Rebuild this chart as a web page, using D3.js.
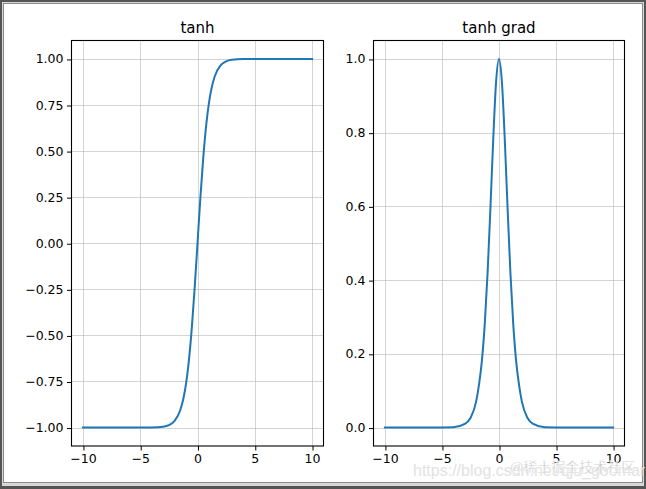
<!DOCTYPE html>
<html><head><meta charset="utf-8">
<script src="https://cdn.jsdelivr.net/npm/d3@7"></script>
<style>
html,body{margin:0;padding:0;background:#fff;}
svg{display:block;font-family:"DejaVu Sans",sans-serif;}
</style></head>
<body>
<svg id="c" width="646" height="489"></svg>
<script>
// ---- data ----
const xTicks = [-10, -5, 0, 5, 10];
const tanhYTicks = [-1.00, -0.75, -0.50, -0.25, 0.00, 0.25, 0.50, 0.75, 1.00];
const gradYTicks = [0.0, 0.2, 0.4, 0.6, 0.8, 1.0];

const tanhX = [-10, -6, -4, -3, -2.5, -2, -1.5, -1.25, -1, -0.75, -0.5, -0.25, 0, 0.25, 0.5, 0.75, 1, 1.25, 1.5, 2, 2.5, 3, 4, 6, 10];
const tanhY = [-1, -1, -0.999, -0.995, -0.987, -0.964, -0.905, -0.848, -0.762, -0.635, -0.462, -0.245, 0, 0.245, 0.462, 0.635, 0.762, 0.848, 0.905, 0.964, 0.987, 0.995, 0.999, 1, 1];

const gradX = [-10, -6, -4, -3, -2.5, -2, -1.75, -1.5, -1.25, -1, -0.75, -0.5, -0.25, 0, 0.25, 0.5, 0.75, 1, 1.25, 1.5, 1.75, 2, 2.5, 3, 4, 6, 10];
const gradY = [0, 0, 0.001, 0.01, 0.026, 0.071, 0.117, 0.181, 0.28, 0.42, 0.597, 0.786, 0.94, 1, 0.94, 0.786, 0.597, 0.42, 0.28, 0.181, 0.117, 0.071, 0.026, 0.01, 0.001, 0, 0];

const titles = ["tanh", "tanh grad"];

const svg = d3.select("#c");
// frame
svg.append("rect").attr("x",0).attr("y",0).attr("width",646).attr("height",489).attr("fill","#555");
svg.append("rect").attr("x",2).attr("y",2).attr("width",642).attr("height",484).attr("fill","#d8d8d8");
svg.append("rect").attr("x",3.5).attr("y",3.5).attr("width",639).attr("height",479).attr("fill","#fff").attr("stroke","#8a8a8a").attr("stroke-width",1);

function panel(box, xs, ys, yDomain, yTicks, yFmt, title){
  const x = d3.scaleLinear().domain([-11, 11]).range([box.x0, box.x1]);
  const y = d3.scaleLinear().domain(yDomain).range([box.y1, box.y0]);
  const g = svg.append("g");
  // grid
  g.selectAll(".gx").data(xTicks).enter().append("line")
    .attr("x1", d=>Math.round(x(d))+0.5).attr("x2", d=>Math.round(x(d))+0.5)
    .attr("y1", box.y0).attr("y2", box.y1)
    .attr("stroke","#b0b0b0").attr("stroke-opacity",0.55).attr("stroke-width",1);
  g.selectAll(".gy").data(yTicks).enter().append("line")
    .attr("y1", d=>Math.round(y(d))+0.5).attr("y2", d=>Math.round(y(d))+0.5)
    .attr("x1", box.x0).attr("x2", box.x1)
    .attr("stroke","#b0b0b0").attr("stroke-opacity",0.55).attr("stroke-width",1);
  // line
  const line = d3.line().x((d,i)=>x(xs[i])).y((d,i)=>y(ys[i])).curve(d3.curveMonotoneX);
  g.append("path").datum(xs).attr("d", line).attr("fill","none")
    .attr("stroke","#1f77b4").attr("stroke-width",2).attr("stroke-linejoin","round").attr("stroke-linecap","square");
  // axes
  const ax = g.append("g").attr("transform",`translate(0,${box.y1})`)
    .call(d3.axisBottom(x).tickValues(xTicks).tickSize(4.5).tickPadding(3.5).tickFormat(d3.format("d")));
  const ay = g.append("g").attr("transform",`translate(${box.x0},0)`)
    .call(d3.axisLeft(y).tickValues(yTicks).tickSize(4.5).tickPadding(3.5).tickFormat(d3.format(yFmt)));
  [ax, ay].forEach(a=>{
    a.select(".domain").remove();
    a.selectAll("text").attr("font-size","12.5px").attr("fill","#000").attr("font-family","DejaVu Sans");
    a.selectAll("line").attr("stroke","#000").attr("stroke-width",1);
  });
  ax.selectAll(".tick line").attr("transform","translate(0.5,0)");
  ay.selectAll(".tick line").attr("transform","translate(0,0.5)");
  // spines
  g.append("rect").attr("x",box.x0).attr("y",box.y0).attr("width",box.x1-box.x0).attr("height",box.y1-box.y0)
    .attr("fill","none").attr("stroke","#000").attr("stroke-width",1.1);
  // title
  g.append("text").attr("x",(box.x0+box.x1)/2).attr("y",box.y0-8).attr("text-anchor","middle")
    .attr("font-size","15px").attr("fill","#000").text(title);
}

panel({x0:71.5, x1:323.5, y0:40.5, y1:446}, tanhX, tanhY, [-1.1, 1.1], tanhYTicks, ".2f", titles[0]);
panel({x0:373.5, x1:624.5, y0:40.5, y1:446}, gradX, gradY, [-0.05, 1.05], gradYTicks, ".1f", titles[1]);

// watermark
svg.append("text").attr("x",413).attr("y",476).attr("font-size","16px").attr("fill","#e2e2e2")
  .attr("font-family","Liberation Sans, sans-serif").text("https://blog.csdn.net/qju_goomar");
svg.append("text").attr("x",510).attr("y",472).attr("font-size","14px").attr("fill","#bdbdbd")
  .attr("stroke","#fff").attr("stroke-width",0.4)
  .attr("font-family","Noto Sans CJK SC, sans-serif").text("@稀土掘金技术社区");
</script>
</body></html>
